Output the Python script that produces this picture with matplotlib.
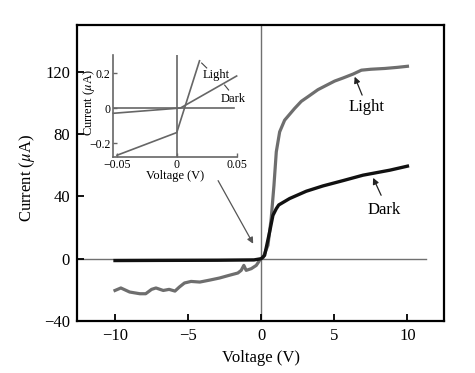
import matplotlib
matplotlib.use("Agg")
import matplotlib.pyplot as plt

plt.rcParams['font.family'] = ['Liberation Serif', 'DejaVu Serif']
plt.rcParams['mathtext.fontset'] = 'stix'

# ---- main data (V, uA) ----
light_v = [-10.0, -9.6, -9.0, -8.3, -7.9, -7.5, -7.2, -6.7, -6.3, -5.9, -5.6, -5.25,
           -4.8, -4.2, -3.5, -2.85, -2.2, -1.6, -1.37, -1.19, -1.03, -0.68, -0.34, -0.11,
           0.0, 0.11, 0.46, 0.68, 0.87, 1.03, 1.26, 1.6, 2.28, 2.74, 3.2, 3.88, 4.5,
           5.02, 5.6, 6.28, 6.85, 7.5, 8.45, 9.3, 10.0]
light_i = [-20.4, -18.8, -21.4, -22.5, -22.5, -19.7, -18.8, -20.4, -19.7, -20.8, -18.2, -15.6,
           -14.6, -15.0, -13.7, -12.4, -10.7, -9.2, -7.5, -4.3, -7.5, -6.4, -4.3, -1.1,
           0.0, 0.4, 8.6, 25.7, 47.0, 68.6, 81.4, 88.9, 96.4, 101.0, 104.0, 108.5, 111.5,
           114.0, 116.0, 118.5, 121.0, 121.6, 122.1, 122.8, 123.5]

dark_v = [-10.0, -7.0, -3.0, -0.5, 0.0, 0.23, 0.57, 0.8, 1.03, 1.2, 1.94, 3.08, 4.22,
          5.59, 6.96, 8.79, 10.0]
dark_i = [-1.2, -1.1, -1.0, -0.8, 0.0, 2.1, 17.0, 27.8, 32.1, 34.5, 38.6, 43.3, 46.7,
          50.1, 53.6, 56.8, 59.4]

x_ticks = [-10, -5, 0, 5, 10]
y_ticks = [-40, 0, 40, 80, 120]

# ---- inset data (V, uA) ----
in_light_v = [-0.05, 0.0, 0.019]
in_light_i = [-0.27, -0.14, 0.27]
in_dark_v = [-0.053, 0.003, 0.05]
in_dark_i = [-0.03, 0.0, 0.183]
in_x_ticks = [-0.05, 0, 0.05]
in_y_ticks = [-0.2, 0, 0.2]

W, H = 475, 373
fig = plt.figure(figsize=(W / 100, H / 100), dpi=100)

def rect(l, t, r, b):
    return [l / W, 1 - b / H, (r - l) / W, (b - t) / H]

ax = fig.add_axes(rect(77, 25, 444, 321))
ax.set_xlim(-12.6, 12.5)
ax.set_ylim(-40, 150)

ax.axvline(0, color='#707070', lw=1.0, zorder=1)
ax.plot([-12.6, 11.3], [0, 0], color='#707070', lw=1.0, zorder=1)

ax.plot(light_v, light_i, color='#6e6e6e', lw=2.3, solid_joinstyle='round', zorder=3)
ax.plot(dark_v, dark_i, color='#111111', lw=2.4, solid_joinstyle='round', zorder=4)

for s in ax.spines.values():
    s.set_linewidth(1.6)
ax.set_xticks(x_ticks)
ax.set_yticks(y_ticks)
ax.tick_params(direction='in', length=5, width=1.3, labelsize=12, pad=5)
ax.tick_params(axis='x', top=False)
ax.set_xlabel('Voltage (V)', fontsize=12)
ax.set_ylabel(r'Current ($\mu$A)', fontsize=12)
ax.xaxis.set_label_coords(0.5, -0.125)
ax.xaxis.label.set_va('center')
ax.yaxis.set_label_coords(-0.136, 0.483)
ax.yaxis.label.set_va('center')

arrow = dict(arrowstyle='-|>', color='#222222', lw=0.9, mutation_scale=9,
             shrinkA=0, shrinkB=0)
ax.annotate('', xy=(6.39, 116.8), xytext=(6.9, 105), arrowprops=arrow)
ax.text(7.19, 97.5, 'Light', fontsize=12, ha='center', va='center')
ax.annotate('', xy=(7.65, 51.9), xytext=(8.2, 40.7), arrowprops=arrow)
ax.text(8.42, 31.5, 'Dark', fontsize=12, ha='center', va='center')
arrow2 = dict(arrow, color='#555555')
ax.annotate('', xy=(-0.55, 9.6), xytext=(-2.95, 50.1), arrowprops=arrow2)

# ---- inset ----
ia = fig.add_axes(rect(113.3, 55, 237, 156.7))
ia.patch.set_alpha(0)
ia.set_xlim(-0.053, 0.0503)
ia.set_ylim(-0.278, 0.303)
for k in ['top', 'right']:
    ia.spines[k].set_visible(False)
for k in ['left', 'bottom']:
    ia.spines[k].set_color('#666666')
    ia.spines[k].set_linewidth(1.2)
ia.axvline(0, color='#666666', lw=1.2)
ia.plot([-0.053, 0.048], [0, 0], color='#666666', lw=1.2)
ia.plot(in_light_v, in_light_i, color='#666666', lw=1.2, clip_on=False)
ia.plot(in_dark_v, in_dark_i, color='#666666', lw=1.2, clip_on=False)
ia.set_xticks(in_x_ticks)
ia.set_yticks(in_y_ticks)
ia.set_xticklabels(['\u22120.05', '0', '0.05'])
ia.set_yticklabels(['\u22120.2', '0', '0.2'])
ia.tick_params(direction='in', length=3, width=1.0, color='#666666', labelsize=8.5, pad=2)
ia.set_xlabel('Voltage (V)', fontsize=9)
ia.set_ylabel(r'Current ($\mu$A)', fontsize=9)
ia.xaxis.set_label_coords(0.5, -0.19)
ia.xaxis.label.set_va('center')
ia.yaxis.set_label_coords(-0.2, 0.53)
ia.yaxis.label.set_va('center')
ia.plot([0.0208, 0.025], [0.257, 0.229], color='#444444', lw=0.8, clip_on=False)
ia.text(0.0333, 0.189, 'Light', fontsize=9, ha='center', va='center', clip_on=False)
ia.plot([0.04, 0.0433], [0.131, 0.103], color='#444444', lw=0.8, clip_on=False)
ia.text(0.0467, 0.051, 'Dark', fontsize=9, ha='center', va='center', clip_on=False)

fig.savefig('out.png', dpi=100)
